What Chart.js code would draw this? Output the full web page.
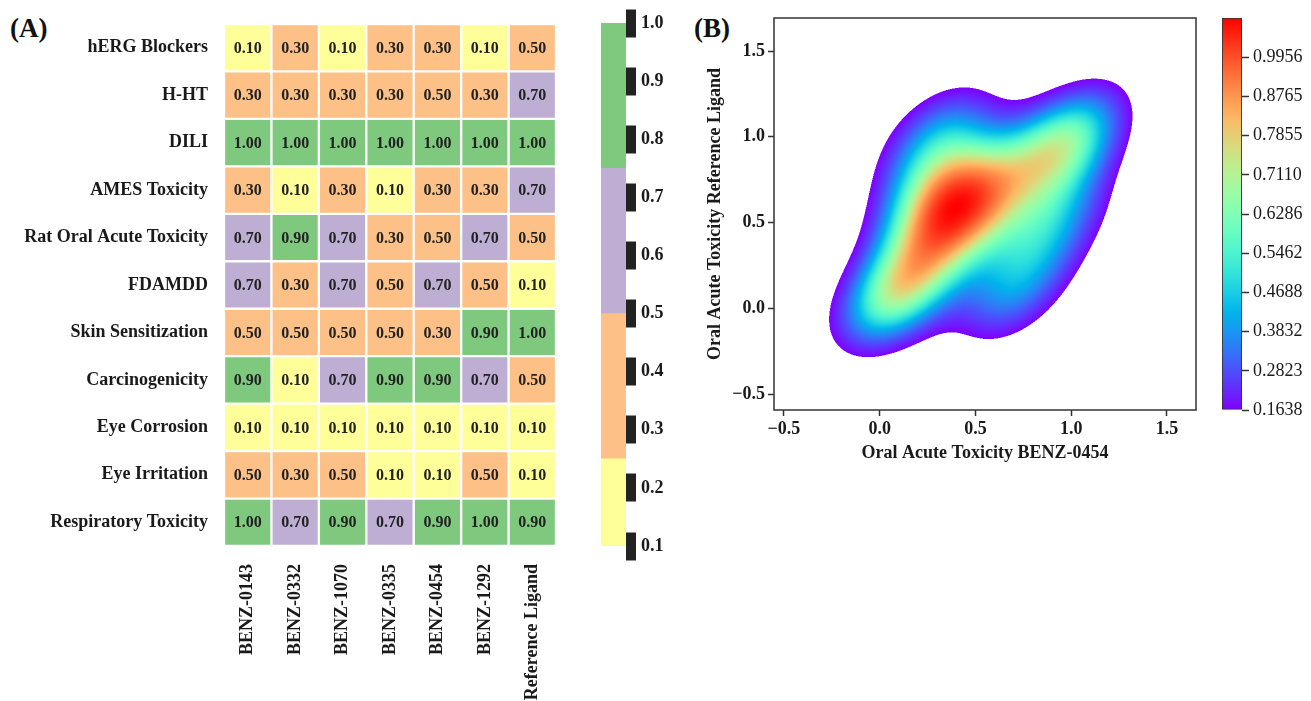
<!DOCTYPE html>
<html>
<head>
<meta charset="utf-8">
<script src="https://cdn.jsdelivr.net/npm/chart.js@4.4.1/dist/chart.umd.min.js"></script>
<style>
html,body{margin:0;padding:0;background:#fff;width:1311px;height:701px;overflow:hidden;}
body{position:relative;font-family:'Liberation Serif','Times New Roman',serif;}
canvas{position:absolute;}
.panel{position:absolute;font:bold 27px 'Liberation Serif','Times New Roman',serif;line-height:1;color:#111;}
</style>
</head>
<body>
<div class="panel" style="left:10px;top:15px">(A)</div>
<div class="panel" style="left:694px;top:15px">(B)</div>
<canvas id="heat" width="590" height="701" style="left:0;top:0"></canvas>
<canvas id="cbarA" width="90" height="701" style="left:590px;top:0"></canvas>
<canvas id="kde" width="530" height="480" style="left:690px;top:0"></canvas>
<canvas id="cbarB" width="111" height="480" style="left:1200px;top:0"></canvas>
<script>
// ---------------- data ----------------
const properties = ['hERG Blockers','H-HT','DILI','AMES Toxicity','Rat Oral Acute Toxicity','FDAMDD',
  'Skin Sensitization','Carcinogenicity','Eye Corrosion','Eye Irritation','Respiratory Toxicity'];
const compounds = ['BENZ-0143','BENZ-0332','BENZ-1070','BENZ-0335','BENZ-0454','BENZ-1292','Reference Ligand'];

const benz0143 = [0.10,0.30,1.00,0.30,0.70,0.70,0.50,0.90,0.10,0.50,1.00];
const benz0332 = [0.30,0.30,1.00,0.10,0.90,0.30,0.50,0.10,0.10,0.30,0.70];
const benz1070 = [0.10,0.30,1.00,0.30,0.70,0.70,0.50,0.70,0.10,0.50,0.90];
const benz0335 = [0.30,0.30,1.00,0.10,0.30,0.50,0.50,0.90,0.10,0.10,0.70];
const benz0454 = [0.30,0.50,1.00,0.30,0.50,0.70,0.30,0.90,0.10,0.10,0.90];
const benz1292 = [0.10,0.30,1.00,0.30,0.70,0.50,0.90,0.70,0.10,0.50,1.00];
const referenceLigand = [0.50,0.70,1.00,0.70,0.50,0.10,1.00,0.50,0.10,0.10,0.90];
const columnValues = [benz0143,benz0332,benz1070,benz0335,benz0454,benz1292,referenceLigand];

const bandEdges = [0.1,0.25,0.5,0.75,1.0];
const bandColors = ['#ffff99','#fdc086','#beaed4','#7fc97f'];
const cbarATicks = [0.1,0.2,0.3,0.4,0.5,0.6,0.7,0.8,0.9,1.0];

const densityTicks = [0.1638,0.2823,0.3832,0.4688,0.5462,0.6286,0.7110,0.7855,0.8765,0.9956];
const kdeXTicks = [-0.5,0,0.5,1.0,1.5];
const kdeYTicks = [-0.5,0,0.5,1.0,1.5];
const kdeXRange = [-0.552,1.652];
const kdeYRange = [-0.593,1.693];

// ---------------- helpers ----------------
const FONT = "'Liberation Serif','Times New Roman',serif";
Chart.defaults.font.family = FONT;
Chart.defaults.color = '#1a1a1a';
Chart.defaults.animation = false;
Chart.defaults.responsive = false;
Chart.defaults.devicePixelRatio = 1;
Chart.defaults.plugins.legend.display = false;
Chart.defaults.plugins.tooltip.enabled = false;

function bandColor(v){
  for (let i=1;i<bandEdges.length;i++) if (v <= bandEdges[i]+1e-9) return bandColors[i-1];
  return bandColors[bandColors.length-1];
}
function rainbow(t){
  t = Math.max(0, Math.min(1, t));
  const r = Math.min(1, Math.abs(2*t-0.5));
  const g = Math.max(0, Math.sin(Math.PI*t));
  const b = Math.max(0, Math.cos(Math.PI*t/2));
  return [r*255, g*255, b*255];
}
const fmtTick = v => (v<0?'\u2212':'') + Math.abs(v).toFixed(1);

// ---------------- (A) heatmap ----------------
const heatDatasets = properties.map((p, r) => ({
  label: p,
  data: compounds.map(() => [r, r+1]),
  backgroundColor: columnValues.map(col => bandColor(col[r])),
  borderColor: '#ffffff', borderWidth: 1.5, borderSkipped: false,
  barPercentage: 1, categoryPercentage: 1, grouped: false
}));

const cellLabels = {
  id: 'cellLabels',
  afterDatasetsDraw(chart){
    const ctx = chart.ctx; ctx.save();
    ctx.font = "bold 16px " + FONT; ctx.fillStyle = '#222';
    ctx.textAlign = 'center'; ctx.textBaseline = 'middle';
    chart.data.datasets.forEach((ds, r) => {
      chart.getDatasetMeta(r).data.forEach((bar, c) => {
        const p = bar.getProps(['x','y','base'], true);
        ctx.fillText(columnValues[c][r].toFixed(2), p.x, (p.y + p.base)/2 + 1);
      });
    });
    ctx.restore();
  }
};

new Chart(document.getElementById('heat'), {
  type: 'bar',
  data: { labels: compounds, datasets: heatDatasets },
  plugins: [cellLabels],
  options: {
    layout: { padding: { left: 0, top: 24, right: 34, bottom: 0 } },
    scales: {
      x: {
        type: 'category', position: 'bottom',
        grid: { display: false }, border: { display: false },
        ticks: { minRotation: 90, maxRotation: 90, autoSkip: false, padding: 10,
                 font: { size: 18, weight: 'bold' }, color: '#1a1a1a' },
        afterFit(s){ s.height = 155; }
      },
      y: {
        type: 'linear', min: 0, max: properties.length, reverse: true,
        grid: { display: false }, border: { display: false },
        afterBuildTicks(s){ s.ticks = properties.map((_, i) => ({ value: i + 0.5 })); },
        ticks: { autoSkip: false, padding: 8, font: { size: 18, weight: 'bold' }, color: '#1a1a1a',
                 callback: v => properties[Math.floor(v)] },
        afterFit(s){ s.width = 224; }
      }
    }
  }
});

// ---------------- (A) colorbar ----------------
new Chart(document.getElementById('cbarA'), {
  type: 'bar',
  data: { labels: [''], datasets: bandColors.map((c, i) => ({
    data: [[bandEdges[i], bandEdges[i+1]]], backgroundColor: c, borderWidth: 0,
    barPercentage: 1, categoryPercentage: 1, grouped: false })) },
  options: {
    layout: { padding: { left: 11, top: 23, right: 0, bottom: 155 } },
    scales: {
      x: { display: false },
      y: {
        position: 'right', min: cbarATicks[0], max: cbarATicks[cbarATicks.length-1],
        afterBuildTicks(s){ s.ticks = cbarATicks.map(v => ({ value: v })); },
        grid: { drawOnChartArea: false, drawTicks: true, tickLength: 10, tickWidth: 28, tickColor: '#222' },
        border: { display: false },
        ticks: { padding: 5, autoSkip: false, font: { size: 18, weight: 'bold' }, color: '#1a1a1a',
                 callback: v => v.toFixed(1) },
        afterFit(s){ s.width = 54; }
      }
    }
  }
});

// ---------------- (B) KDE ----------------
const kdePlugin = {
  id: 'kdeFill',
  beforeDatasetsDraw(chart){
    const pts = chart.data.datasets[0].data;
    const n = pts.length;
    let mx = 0, my = 0;
    pts.forEach(p => { mx += p.x; my += p.y; }); mx /= n; my /= n;
    let sxx = 0, syy = 0, sxy = 0;
    pts.forEach(p => { const dx = p.x-mx, dy = p.y-my; sxx += dx*dx; syy += dy*dy; sxy += dx*dy; });
    sxx /= (n-1); syy /= (n-1); sxy /= (n-1);
    const f2 = Math.pow(n, -2/6);           // Scott's factor squared (d = 2)
    const a = sxx*f2, b = sxy*f2, d = syy*f2;
    const det = a*d - b*b;
    const ia = d/det, ib = -b/det, id = a/det;
    const norm = 1/(2*Math.PI*Math.sqrt(det))/n;
    const dens = (x, y) => {
      let s = 0;
      for (let k=0;k<n;k++){
        const dx = x-pts[k].x, dy = y-pts[k].y;
        s += Math.exp(-0.5*(ia*dx*dx + 2*ib*dx*dy + id*dy*dy));
      }
      return s*norm;
    };
    const xs = chart.scales.x, ys = chart.scales.y;
    const A = chart.chartArea;
    const L = Math.round(A.left), T = Math.round(A.top);
    const W = Math.round(A.right) - L, H = Math.round(A.bottom) - T;
    const SS = 2;
    const grid = new Float32Array(W*SS*H*SS);
    let maxD = 0;
    for (let j=0;j<H*SS;j++){
      const yv = ys.getValueForPixel(T + (j+0.5)/SS);
      for (let i=0;i<W*SS;i++){
        const xv = xs.getValueForPixel(L + (i+0.5)/SS);
        const v = dens(xv, yv);
        grid[j*W*SS+i] = v;
        if (v > maxD) maxD = v;
      }
    }
    const anchors = densityTicks.slice();
    anchors.push(Math.max(maxD, densityTicks[densityTicks.length-1]*1.01));
    const top = anchors.length - 1;
    const posOf = v => {
      if (v <= anchors[0]) return 0;
      for (let k=0;k<top;k++) if (v <= anchors[k+1]) return k + (v-anchors[k])/(anchors[k+1]-anchors[k]);
      return top;
    };
    const off = document.createElement('canvas'); off.width = W; off.height = H;
    const octx = off.getContext('2d');
    const img = octx.createImageData(W, H);
    for (let j=0;j<H;j++){
      for (let i=0;i<W;i++){
        let cnt = 0, r = 0, g = 0, bl = 0;
        for (let sj=0;sj<SS;sj++) for (let si=0;si<SS;si++){
          const v = grid[(j*SS+sj)*W*SS + i*SS+si];
          if (v >= anchors[0]){
            const c = rainbow(posOf(v)/top);
            r += c[0]; g += c[1]; bl += c[2]; cnt++;
          }
        }
        if (cnt){
          const o = (j*W+i)*4;
          img.data[o] = r/cnt; img.data[o+1] = g/cnt; img.data[o+2] = bl/cnt;
          img.data[o+3] = 255*cnt/(SS*SS);
        }
      }
    }
    octx.putImageData(img, 0, 0);
    chart.ctx.drawImage(off, L, T);
  }
};
const framePlugin = {
  id: 'frame',
  afterDraw(chart){
    const A = chart.chartArea, ctx = chart.ctx;
    ctx.save(); ctx.strokeStyle = '#333'; ctx.lineWidth = 1.5;
    ctx.strokeRect(A.left, A.top, A.right-A.left, A.bottom-A.top);
    ctx.restore();
  }
};

new Chart(document.getElementById('kde'), {
  type: 'scatter',
  data: { datasets: [{ data: benz0454.map((x, i) => ({ x: x, y: referenceLigand[i] })),
                       pointRadius: 0, showLine: false }] },
  plugins: [kdePlugin, framePlugin],
  options: {
    layout: { padding: { left: 0, top: 18, right: 24, bottom: 0 } },
    scales: {
      x: {
        type: 'linear', min: kdeXRange[0], max: kdeXRange[1],
        afterBuildTicks(s){ s.ticks = kdeXTicks.map(v => ({ value: v })); },
        grid: { drawOnChartArea: false, tickLength: 6, tickWidth: 1.5, tickColor: '#333' },
        border: { display: false },
        ticks: { padding: 3, font: { size: 18, weight: 'bold' }, color: '#1a1a1a', callback: fmtTick },
        title: { display: true, text: 'Oral Acute Toxicity BENZ-0454', color: '#1a1a1a',
                 font: { size: 18, weight: 'bold' }, padding: { top: 0, bottom: 16 } },
        afterFit(s){ s.height = 70; }
      },
      y: {
        type: 'linear', min: kdeYRange[0], max: kdeYRange[1],
        afterBuildTicks(s){ s.ticks = kdeYTicks.map(v => ({ value: v })); },
        grid: { drawOnChartArea: false, tickLength: 6, tickWidth: 1.5, tickColor: '#333' },
        border: { display: false },
        ticks: { padding: 3, font: { size: 18, weight: 'bold' }, color: '#1a1a1a', callback: fmtTick },
        title: { display: true, text: 'Oral Acute Toxicity Reference Ligand', color: '#1a1a1a',
                 font: { size: 18, weight: 'bold' }, padding: { top: 15, bottom: 0 } },
        afterFit(s){ s.width = 84; }
      }
    }
  }
});

// ---------------- (B) colorbar ----------------
new Chart(document.getElementById('cbarB'), {
  type: 'bar',
  data: { labels: [''], datasets: [{
    data: [[0, densityTicks.length]],
    backgroundColor: (c) => {
      const ch = c.chart, A = ch.chartArea;
      if (!A) return '#ffffff';
      const g = ch.ctx.createLinearGradient(0, A.bottom, 0, A.top);
      for (let i=0;i<=40;i++){ const col = rainbow(i/40);
        g.addColorStop(i/40, 'rgb(' + col.map(Math.round).join(',') + ')'); }
      return g;
    },
    borderColor: '#333', borderWidth: 1.2, borderSkipped: false,
    barPercentage: 1, categoryPercentage: 1 }] },
  options: {
    layout: { padding: { left: 22, top: 18, right: 0, bottom: 70 } },
    scales: {
      x: { display: false },
      y: {
        position: 'right', min: 0, max: densityTicks.length,
        afterBuildTicks(s){ s.ticks = densityTicks.map((_, i) => ({ value: i })); },
        grid: { drawOnChartArea: false, tickLength: 7, tickWidth: 1.5, tickColor: '#333' },
        border: { display: false },
        ticks: { padding: 4, autoSkip: false, font: { size: 18 }, color: '#1a1a1a',
                 callback: v => densityTicks[v].toFixed(4) },
        afterFit(s){ s.width = 69; }
      }
    }
  }
});
</script>
</body>
</html>
